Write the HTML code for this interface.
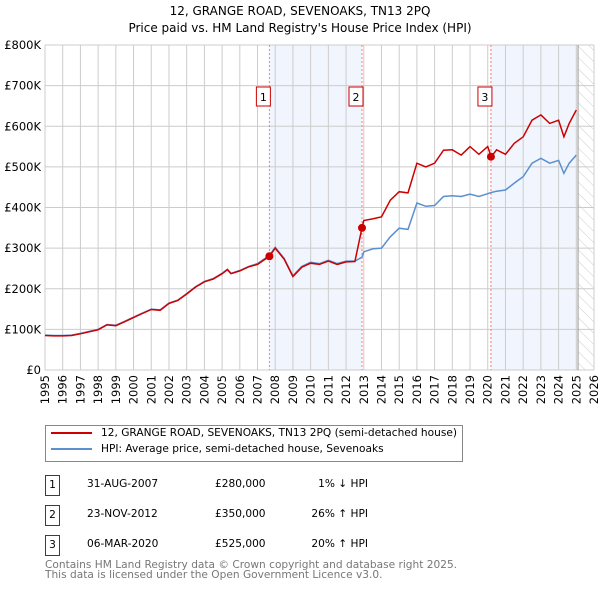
<!DOCTYPE html>
<html><head><meta charset="utf-8">
<style>
body{margin:0;background:#fff;font-family:"Liberation Sans","DejaVu Sans",sans-serif;}
#wrap{position:relative;width:600px;height:590px;overflow:hidden;}
svg text{font-family:"DejaVu Sans","Liberation Sans",sans-serif;}
</style></head>
<body>
<div id="wrap">
<svg id="chart" width="600" height="590">
<text x="300" y="15" text-anchor="middle" font-size="12" fill="#000">12, GRANGE ROAD, SEVENOAKS, TN13 2PQ</text>
<text x="300" y="32" text-anchor="middle" font-size="12" fill="#000">Price paid vs. HM Land Registry's House Price Index (HPI)</text>
<g id="plot"></g>
</svg>
<div style="position:absolute;left:45px;top:425px;width:416px;height:35px;border:1px solid #888;font-size:10.6px;font-family:'DejaVu Sans','Liberation Sans',sans-serif;">
 <div style="position:absolute;left:5px;top:6px;width:41px;height:2px;background:#cc0000"></div>
 <div style="position:absolute;left:55px;top:1px;white-space:nowrap">12, GRANGE ROAD, SEVENOAKS, TN13 2PQ (semi-detached house)</div>
 <div style="position:absolute;left:5px;top:22px;width:41px;height:2px;background:#5b8fd0"></div>
 <div style="position:absolute;left:55px;top:17px;white-space:nowrap">HPI: Average price, semi-detached house, Sevenoaks</div>
</div>
<div id="table" style="font-size:10.6px;font-family:'DejaVu Sans','Liberation Sans',sans-serif;"></div>
<div style="position:absolute;left:45px;top:560px;font-size:10.6px;line-height:10px;color:#777;font-family:'DejaVu Sans','Liberation Sans',sans-serif;white-space:nowrap">Contains HM Land Registry data © Crown copyright and database right 2025.<br>This data is licensed under the Open Government Licence v3.0.</div>
</div>
<script>
const years=[1995,1996,1997,1998,1999,2000,2001,2002,2003,2004,2005,2006,2007,2008,2009,2010,2011,2012,2013,2014,2015,2016,2017,2018,2019,2020,2021,2022,2023,2024,2025,2026];
const yTicks=[0,100000,200000,300000,400000,500000,600000,700000,800000];
const yTickLabels=["£0","£100K","£200K","£300K","£400K","£500K","£600K","£700K","£800K"];
const hpiDates=[1995,1995.5,1996,1996.5,1997,1997.5,1998,1998.5,1999,1999.5,2000,2000.5,2001,2001.5,2002,2002.5,2003,2003.5,2004,2004.5,2005,2005.3,2005.5,2006,2006.5,2007,2007.67,2008,2008.5,2009,2009.5,2010,2010.5,2011,2011.5,2012,2012.5,2012.9,2013,2013.5,2014,2014.5,2015,2015.5,2016,2016.5,2017,2017.5,2018,2018.5,2019,2019.5,2020,2020.2,2020.5,2021,2021.5,2022,2022.5,2023,2023.5,2024,2024.3,2024.6,2025];
const hpiValues=[86000,85000,85000,86000,90000,95000,100000,112000,110000,120000,130000,140000,150000,148000,165000,172000,188000,205000,218000,225000,238000,248000,238000,245000,255000,262000,282000,302000,275000,232000,255000,265000,262000,270000,262000,268000,268000,278000,291000,298000,300000,328000,349000,346000,411000,403000,405000,427000,429000,427000,433000,427000,434000,437000,440000,443000,460000,476000,509000,521000,509000,516000,484000,509000,529000];
const priceValues=[85000,84000,84000,85000,89000,94000,99000,111000,109000,119000,129000,139000,149000,147000,164000,171000,187000,204000,217000,224000,237000,247000,237000,244000,254000,260000,280000,300000,273000,230000,253000,263000,260000,268000,260000,266000,267000,350000,368000,372000,377000,418000,439000,436000,509000,500000,509000,541000,542000,529000,550000,531000,550000,525000,542000,531000,558000,574000,615000,628000,607000,615000,574000,607000,640000];
const saleDates=[2007.67,2012.9,2020.18];
const salePrices=[280000,350000,525000];
const saleLabels=["1","2","3"];
const saleDateText=["31-AUG-2007","23-NOV-2012","06-MAR-2020"];
const salePriceText=["£280,000","£350,000","£525,000"];
const saleHpiText=["1% ↓ HPI","26% ↑ HPI","20% ↑ HPI"];

const X0=45,X1=594,Y0=370,Y1=45;
const xs=d=>X0+(d-1995)/(2026-1995)*(X1-X0);
const ys=v=>Y0-v/800000*(Y0-Y1);
const NS="http://www.w3.org/2000/svg";
const g=document.getElementById('plot');
function mk(t,a){const e=document.createElementNS(NS,t);for(const k in a)e.setAttribute(k,a[k]);g.appendChild(e);return e;}
const defs=document.createElementNS(NS,'defs');
defs.innerHTML='<pattern id="hatch" width="8" height="8" patternUnits="userSpaceOnUse" patternTransform="rotate(-45)"><line x1="0" y1="0" x2="0" y2="8" stroke="#ccc" stroke-width="1"/></pattern>';
g.appendChild(defs);
let s1=mk('rect',{x:xs(saleDates[0]),y:Y1,width:xs(saleDates[1])-xs(saleDates[0]),height:Y0-Y1,fill:'#eef2fc',opacity:0.8});


let s2=mk('rect',{x:xs(saleDates[2]),y:Y1,width:xs(2025.1)-xs(saleDates[2]),height:Y0-Y1,fill:'#eef2fc',opacity:0.8});


let ht=mk('rect',{x:xs(2025.1),y:Y1,width:X1-xs(2025.1),height:Y0-Y1,fill:'url(#hatch)'});


years.forEach(y=>{const l=mk('line',{x1:xs(y),x2:xs(y),y1:Y1,y2:Y0,stroke:'#ccc','stroke-width':1});


const t=mk('text',{x:0,y:0,'font-size':11.5,'text-anchor':'end',transform:`translate(${xs(y)+4},${Y0+5}) rotate(-90)`});t.textContent=y;

});
yTicks.forEach((v,i)=>{const l=mk('line',{x1:X0,x2:X1,y1:ys(v),y2:ys(v),stroke:'#ccc','stroke-width':1});


const t=mk('text',{x:X0-4,y:ys(v)+4,'font-size':11.5,'text-anchor':'end'});t.textContent=yTickLabels[i];

});
let el=mk('line',{x1:xs(2025.1),x2:xs(2025.1),y1:Y1,y2:Y0,stroke:'#999','stroke-width':1});


saleDates.forEach((d,i)=>{const l=mk('line',{x1:xs(d),x2:xs(d),y1:Y1,y2:Y0,stroke:'#f08080','stroke-width':1,'stroke-dasharray':'2,2'});


const r=mk('rect',{x:xs(d)-13,y:87,width:14,height:19,fill:'#fff',stroke:'#cc0000','stroke-width':1});


const t=mk('text',{x:xs(d)-6,y:101,'font-size':11,'text-anchor':'middle'});t.textContent=saleLabels[i];

});
const pth=(arr)=>hpiDates.map((d,i)=>(i?'L':'M')+xs(d).toFixed(1)+','+ys(arr[i]).toFixed(1)).join('');
let hl=mk('path',{d:pth(hpiValues),fill:'none',stroke:'#5b8fd0','stroke-width':1.5});


let pl=mk('path',{d:pth(priceValues),fill:'none',stroke:'#cc0000','stroke-width':1.5});


saleDates.forEach((d,i)=>{const c=mk('circle',{cx:xs(d),cy:ys(salePrices[i]),r:4,fill:'#cc0000'});

});
const tb=document.getElementById('table');
saleDates.forEach((d,i)=>{const top=475+i*30;
const row=document.createElement('div');


row.style.cssText=`position:absolute;left:0;top:${top}px;width:600px;height:20px;`;
row.innerHTML=`<div style="position:absolute;left:45px;top:0;width:13px;height:19px;border:1px solid #cc0000;text-align:center;line-height:19px">${saleLabels[i]}</div>
<div style="position:absolute;left:87px;top:3px">${saleDateText[i]}</div>
<div style="position:absolute;left:215px;top:3px">${salePriceText[i]}</div>
<div style="position:absolute;right:232px;top:3px">${saleHpiText[i]}</div>`;
tb.appendChild(row);});
</script>
</body></html>
